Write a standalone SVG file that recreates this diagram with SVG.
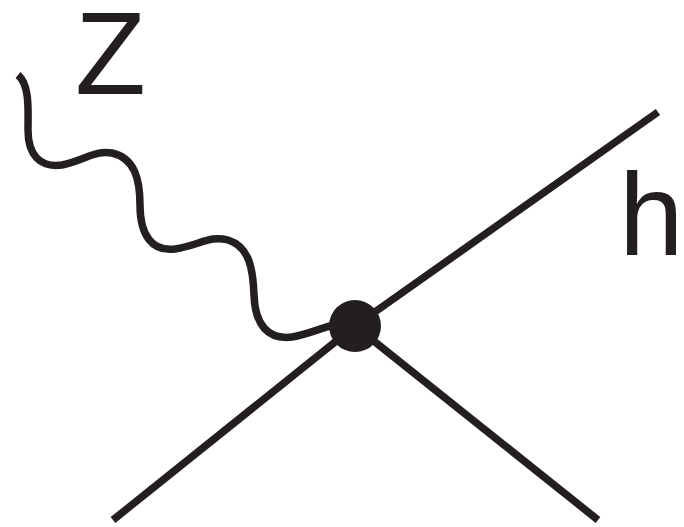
<svg xmlns="http://www.w3.org/2000/svg" width="684" height="527" viewBox="0 0 684 527">
  <style>
    .line { fill: none; stroke: #231f20; stroke-width: 7.5; stroke-linecap: butt; }
    .lbl { font-family: "Liberation Sans", Arial, sans-serif; font-size: 116px; fill: #231f20; }
  </style>
  <rect width="684" height="527" fill="#ffffff"/>
  <g id="connectors">
    <path id="z-boson" class="line" d="M18,75 C30,85 28,110 28,130 C28,155 40,168 62,165 C85,160 95,150 112,153 C135,158 140,180 140,205 C140,235 152,252 175,249 C200,245 210,235 228,240 C250,247 253,270 254,295 C255,325 268,340 292,337 C310,334 325,326 345,322"/>
    <line id="higgs" class="line" x1="355" y1="326" x2="658" y2="112"/>
    <line id="leg-left" class="line" x1="355" y1="326" x2="113" y2="520"/>
    <line id="leg-right" class="line" x1="355" y1="326" x2="598" y2="520"/>
  </g>
  <g id="vertex">
    <circle cx="355" cy="326" r="26" fill="#231f20"/>
  </g>
  <g id="label-z">
    <text class="lbl" x="75" y="94">Z</text>
  </g>
  <g id="label-h">
    <text class="lbl" x="619" y="255">h</text>
  </g>
</svg>
